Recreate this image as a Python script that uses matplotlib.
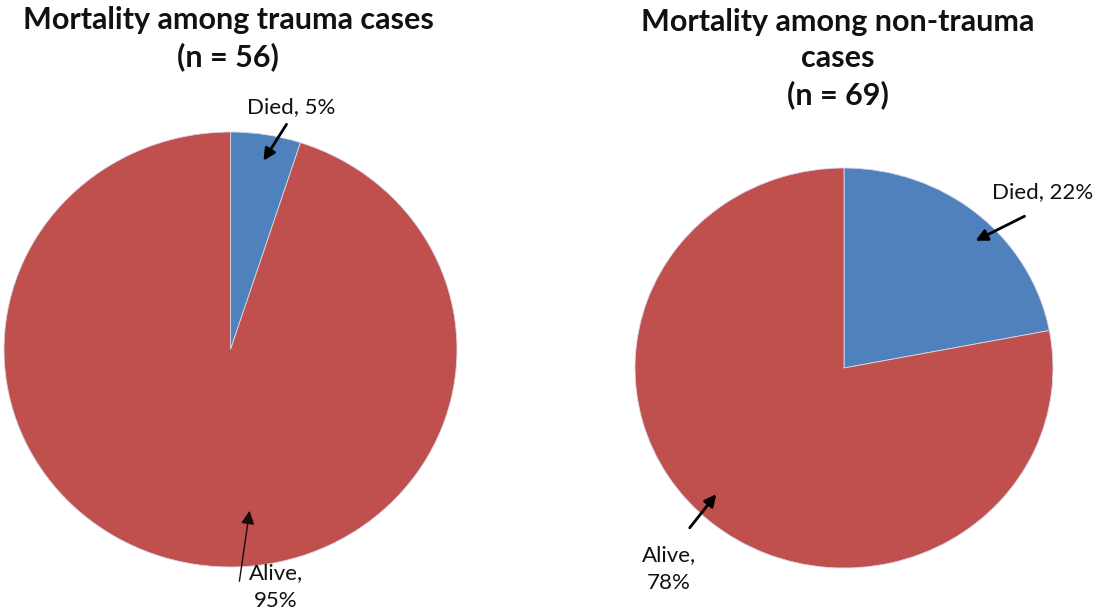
import matplotlib
matplotlib.use("Agg")
import matplotlib.pyplot as plt

plt.rcParams['font.family'] = ['Lato', 'DejaVu Sans']

# ---- data ----
categories = ["Died", "Alive"]
trauma_pct = [5, 95]
nontrauma_pct = [22, 78]
trauma_n = 56
nontrauma_n = 69
titles = ["Mortality among trauma cases\n(n = {})".format(trauma_n),
          "Mortality among non-trauma\ncases\n(n = {})".format(nontrauma_n)]
colors = ["#4F81BD", "#C0504D"]

W, H = 1094, 614
fig = plt.figure(figsize=(W / 100, H / 100), dpi=100)
fig.patch.set_facecolor("white")


def px_axes(x0, y0, x1, y1):
    """axes from pixel box (top-left origin)"""
    return fig.add_axes([x0 / W, (H - y1) / H, (x1 - x0) / W, (y1 - y0) / H])


ax1 = px_axes(4, 132, 457, 567)
ax2 = px_axes(635, 168, 1053, 568)

for ax, vals in [(ax1, trauma_pct), (ax2, nontrauma_pct)]:
    ax.pie(vals, colors=colors, startangle=90, counterclock=False,
           radius=1.0, wedgeprops=dict(edgecolor="#d8d8e8", linewidth=0.6))
    ax.set_aspect("auto")
    ax.set_xlim(-1, 1)
    ax.set_ylim(-1, 1)
    ax.axis("off")

# overlay for titles / labels in pixel coordinates
ov = fig.add_axes([0, 0, 1, 1], zorder=5)
ov.set_xlim(0, W)
ov.set_ylim(H, 0)
ov.axis("off")

title_fs = 22
ov.text(228, 38.5, titles[0], ha="center", va="center", fontsize=title_fs,
        fontweight="bold", linespacing=1.32, color="#111111")
ov.text(838, 58.5, titles[1], ha="center", va="center", fontsize=title_fs,
        fontweight="bold", linespacing=1.36, color="#111111")

lab_fs = 16
arrow_kw = dict(arrowstyle="-|>,head_length=0.7,head_width=0.35", color="black", lw=2)

# Left: Died
ov.text(247, 107, f"{categories[0]}, {trauma_pct[0]}%", ha="left", va="center",
        fontsize=lab_fs, color="#111111")
ov.annotate("", xy=(262, 163), xytext=(288, 122), arrowprops=arrow_kw)
# Left: Alive
ov.text(276, 587, f"{categories[1]},\n{trauma_pct[1]}%", ha="center", va="center",
        fontsize=lab_fs, color="#111111", linespacing=1.55)
ov.annotate("", xy=(250, 508), xytext=(239, 584),
            arrowprops=dict(arrowstyle="-|>,head_length=0.8,head_width=0.4",
                            color="#1a0a0a", lw=1.0))
# Right: Died
ov.text(992, 192, f"{categories[0]}, {nontrauma_pct[0]}%", ha="left", va="center",
        fontsize=lab_fs, color="#111111")
ov.annotate("", xy=(973, 242), xytext=(1027, 215), arrowprops=arrow_kw)
# Right: Alive
ov.text(669, 569, f"{categories[1]},\n{nontrauma_pct[1]}%", ha="center", va="center",
        fontsize=lab_fs, color="#111111", linespacing=1.45)
ov.annotate("", xy=(718, 492), xytext=(688, 530), arrowprops=arrow_kw)

fig.savefig("out.png", dpi=100, facecolor="white")
